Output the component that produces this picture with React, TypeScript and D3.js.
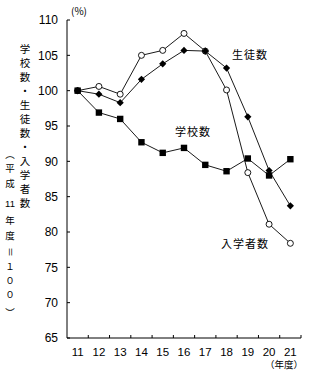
import React from "react";
import * as d3 from "d3";

const years = ["11", "12", "13", "14", "15", "16", "17", "18", "19", "20", "21"];
const students = [100, 99.5, 98.3, 101.6, 103.8, 105.7, 105.6, 103.2, 96.3, 88.7, 83.7];
const entrants = [100, 100.6, 99.5, 105.0, 105.7, 108.1, 105.6, 100.1, 88.4, 81.1, 78.4];
const schools = [100, 96.9, 96.0, 92.7, 91.2, 91.9, 89.5, 88.6, 90.4, 88.0, 90.3];
const yTicks = [65, 70, 75, 80, 85, 90, 95, 100, 105, 110];
const yTitle1 = ["学", "校", "数", "・", "生", "徒", "数", "・", "入", "学", "者", "数"];
const yTitle2 = ["︵", "平", "成", "11", "年", "度", "＝", "１", "０", "０", "︶"];

const W = 323, H = 382;
const left = 67, right = 301, top = 20, bottom = 338;

export default function App() {
  const x = d3.scaleBand<string>().domain(years).range([left, right]);
  const y = d3.scaleLinear().domain([65, 110]).range([bottom, top]);
  const cx = (d: string) => (x(d) as number) + x.bandwidth() / 2;
  const line = d3.line<number>().x((_, i) => cx(years[i])).y((v) => y(v));
  const num = "'Liberation Sans', Arial, sans-serif";
  const jp = "'Noto Sans CJK JP', sans-serif";
  const boundaries = years.map((d) => (x(d) as number) + x.bandwidth());
  const t2y = [155, 169, 184, 204, 221, 236, 252, 267, 281, 295, 313];
  return (
    <svg width={W} height={H} style={{ position: "absolute", left: 0, top: 0 }}>
      <rect width={W} height={H} fill="#fff" />
      {/* axes */}
      <line x1={left} x2={left} y1={top} y2={bottom} stroke="#000" />
      <line x1={left} x2={right} y1={bottom} y2={bottom} stroke="#000" />
      {yTicks.map((t) => (
        <g key={t}>
          <line x1={left} x2={left + 3} y1={y(t)} y2={y(t)} stroke="#000" />
          <text x={58} y={y(t)} dy="0.36em" textAnchor="end" fontSize={12} fontFamily={num}>{t}</text>
        </g>
      ))}
      {boundaries.map((b, i) => (
        <line key={i} x1={b} x2={b} y1={bottom} y2={bottom - 3} stroke="#000" />
      ))}
      {years.map((d) => (
        <text key={d} x={cx(d)} y={352} dy="0.36em" textAnchor="middle" fontSize={11.5} fontFamily={num}>{d}</text>
      ))}
      <text x={284} y={365} dy="0.36em" textAnchor="middle" fontSize={9.5} fontFamily={jp}>（年度）</text>
      <text x={79} y={11} dy="0.36em" textAnchor="middle" fontSize={10} fontFamily={jp}>(%)</text>
      {/* y title */}
      {yTitle1.map((c, i) => (
        <text key={i} x={25} y={49 + i * 14} dy="0.36em" textAnchor="middle" fontSize={10.5} fontFamily={jp}>{c}</text>
      ))}
      {yTitle2.map((c, i) => (
        <text key={i} x={10} y={t2y[i]} dy="0.36em" textAnchor="middle" fontSize={9.5}
          fontFamily={c === "11" ? num : jp}
          transform={c === "＝" ? `rotate(90 10 ${t2y[i]})` : undefined}>{c}</text>
      ))}
      {/* lines */}
      <path d={line(entrants) as string} fill="none" stroke="#000" strokeWidth={0.9} />
      <path d={line(students) as string} fill="none" stroke="#000" strokeWidth={0.9} />
      <path d={line(schools) as string} fill="none" stroke="#000" strokeWidth={0.9} />
      {entrants.map((v, i) => (
        <circle key={"e" + i} cx={cx(years[i])} cy={y(v)} r={3} fill="#fff" stroke="#000" strokeWidth={0.9} />
      ))}
      {students.map((v, i) => {
        const px = cx(years[i]), py = y(v);
        return <path key={"s" + i} d={`M${px},${py - 3.6}L${px + 3.6},${py}L${px},${py + 3.6}L${px - 3.6},${py}Z`} fill="#000" />;
      })}
      {schools.map((v, i) => (
        <rect key={"c" + i} x={cx(years[i]) - 3.2} y={y(v) - 3.2} width={6.4} height={6.4} fill="#000" />
      ))}
      {/* labels */}
      <text x={250} y={55} dy="0.36em" textAnchor="middle" fontSize={11} fontFamily={jp} letterSpacing={1}>生徒数</text>
      <text x={193} y={132} dy="0.36em" textAnchor="middle" fontSize={11} fontFamily={jp} letterSpacing={1}>学校数</text>
      <text x={245} y={244} dy="0.36em" textAnchor="middle" fontSize={11} fontFamily={jp} letterSpacing={1}>入学者数</text>
    </svg>
  );
}
